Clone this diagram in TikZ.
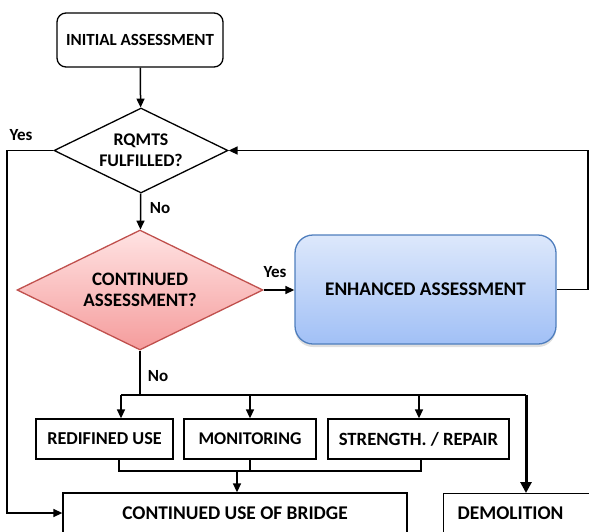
\documentclass[tikz,border=0pt]{standalone}
\usepackage{fontspec}
\setmainfont{Carlito}
\usetikzlibrary{arrows.meta,shapes.geometric,shadows}

\definecolor{pinktop}{HTML}{FFE3E3}
\definecolor{pinkbot}{HTML}{F59C9C}
\definecolor{pinkdraw}{HTML}{C0504D}
\definecolor{bluetop}{HTML}{DDE8FB}
\definecolor{bluebot}{HTML}{A1C0F6}
\definecolor{bluedraw}{HTML}{4F7EBD}

\begin{document}
\begin{tikzpicture}[x=1pt,y=-1pt,
  every node/.style={font=\fontsize{17}{21}\selectfont\bfseries, align=center, inner sep=0pt},
  fs/.style={font=\fontsize{#1}{21}\selectfont\bfseries},
  box/.style={draw=black, line width=1.3pt, minimum height=40pt},
  decision/.style={diamond, draw=black, line width=1.3pt, aspect=2},
  tip/.style={-{Triangle[length=9pt,width=8pt]}},
  conn/.style={line width=1.5pt},
  heavy/.style={line width=3pt, -{Triangle[length=11pt,width=11pt]}},
  lbl/.style={font=\fontsize{17}{19}\selectfont\bfseries}
]
\clip (0,0) rectangle (589,531);
\fill[white] (0,0) rectangle (589,531);

% boxes and decisions
\node[box, fs=17, rounded corners=9pt, minimum width=166pt, minimum height=54pt] (init) at (140,40) {INITIAL ASSESSMENT};
\node[decision, fs=17.8, minimum width=174pt, minimum height=85pt] (q1) at (141,150.5) {RQMTS\\FULFILLED?};
\node[decision, fs=19, draw=pinkdraw, top color=pinktop, bottom color=pinkbot,
      minimum width=246pt, minimum height=120pt] (q2) at (140,290) {CONTINUED\\ASSESSMENT?};
\node[draw=bluedraw, fs=19.3, line width=1.3pt, rounded corners=18pt, top color=bluetop, bottom color=bluebot,
      minimum width=261pt, minimum height=109pt,
      drop shadow={shadow xshift=0pt, shadow yshift=-3pt, opacity=0.25}] (enh) at (425.5,289.5) {\raisebox{-2pt}{ENHANCED ASSESSMENT}};

\node[box, fs=18.2, minimum width=137pt] (use) at (104.5,439) {REDIFINED USE};
\node[box, fs=17.9, minimum width=132pt] (mon) at (250,439) {MONITORING};
\node[box, fs=18.7, minimum width=181pt] (str) at (418.5,439) {STRENGTH. / REPAIR};
\node[box, fs=19.4, minimum width=344pt] (cont) at (235,513) {CONTINUED USE OF BRIDGE};
\node[box, fs=19.4, anchor=north west, text width=132pt, inner xsep=14pt, align=left] (dem) at (443,493) {DEMOLITION};

% junction points
\coordinate (lft) at (7,150.5);
\coordinate (rgt) at (588,289.5);
\coordinate (bus) at (140,395);
\coordinate (busL) at (121,395);
\coordinate (busM) at (250,395);
\coordinate (busS) at (419,395);
\coordinate (busD) at (526,395);
\coordinate (mrg) at (237,471);
\coordinate (mrgL) at (119,471);
\coordinate (mrgS) at (421,471);

% connectors
\draw[conn, tip] (init) -- (q1);
\draw[conn, tip] (q1) -- (q2);
\draw[conn, tip] (q1.west) -- (lft) |- (cont.west);
\draw[conn, tip] (q2.east) -- (q2.east -| enh.west);
\draw[conn, tip] (enh.east) -- (rgt) |- (q1.east);
\draw[conn] (q2.south) -- (bus);
\draw[conn] (busL) -- (busD);
\draw[conn, tip] (busL) -- (busL |- use.north);
\draw[conn, tip] (busM) -- (busM |- mon.north);
\draw[conn, tip] (busS) -- (busS |- str.north);
\draw[heavy] (busD) -- (busD |- dem.north);
\draw[conn] (mrgL |- use.south) -- (mrgL) -- (mrgS) -- (mrgS |- str.south);
\draw[conn] (mon.south) -- (mon.south |- mrg);
\draw[conn, tip] (mrg) -- (mrg |- cont.north);

% branch labels
\node[lbl] (yes1) at (21,135) {Yes};
\node[lbl] (no1) at (160,208) {No};
\node[lbl] (yes2) at (275,272) {Yes};
\node[lbl] (no2) at (158,376) {No};
\end{tikzpicture}
\end{document}
